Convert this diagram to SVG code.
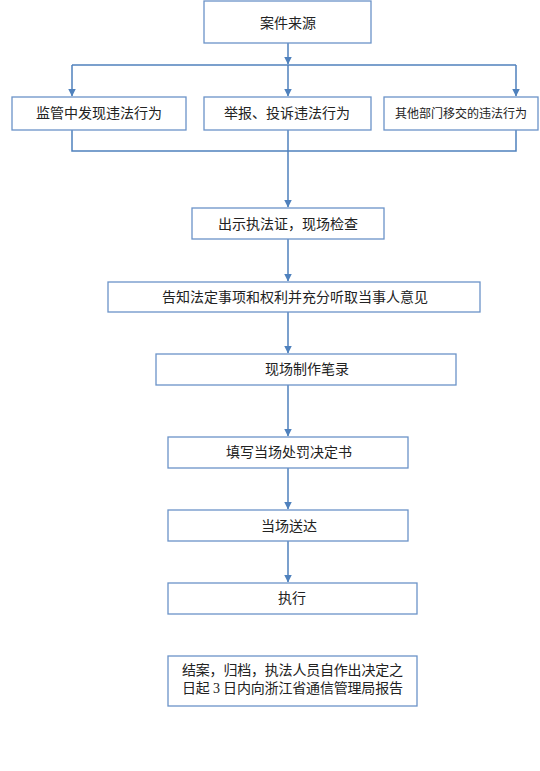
<svg xmlns="http://www.w3.org/2000/svg" width="540" height="771" viewBox="0 0 540 771">
<defs>
<marker id="ah" markerWidth="8" markerHeight="9" refX="7.5" refY="4" orient="auto" markerUnits="userSpaceOnUse" viewBox="0 0 8 8">
<path d="M0,0 L8,4 L0,8 Z" fill="#4f81bd"/>
</marker>
<style>
.box{fill:#fff;stroke:#6b93c8;stroke-width:1.3}
.ln{fill:none;stroke:#4f81bd;stroke-width:1.5}
.t{font-family:"Liberation Serif","Noto Sans CJK SC",serif;font-size:14px;fill:#222;text-anchor:middle;dominant-baseline:central}
.tl{font-family:"Liberation Serif","Noto Sans CJK SC",serif;font-size:14px;fill:#222;text-anchor:start;dominant-baseline:central}
</style>
</defs>
<rect width="540" height="771" fill="#fff"/>
<g id="connectors">
<path class="ln" d="M288,43 V64" marker-end="url(#ah)"/>
<path class="ln" d="M72,65 H516"/>
<path class="ln" d="M72,65 V96" marker-end="url(#ah)"/>
<path class="ln" d="M288,65 V96" marker-end="url(#ah)"/>
<path class="ln" d="M516,65 V96" marker-end="url(#ah)"/>
<path class="ln" d="M72,130 V151 H516 V130"/>
<path class="ln" d="M288,130 V207" marker-end="url(#ah)"/>
<path class="ln" d="M288,239 V281" marker-end="url(#ah)"/>
<path class="ln" d="M288,312 V353" marker-end="url(#ah)"/>
<path class="ln" d="M288,385 V436" marker-end="url(#ah)"/>
<path class="ln" d="M288,468 V509" marker-end="url(#ah)"/>
<path class="ln" d="M288,541 V582" marker-end="url(#ah)"/>
</g>
<g id="n1"><rect class="box" x="204" y="1" width="167" height="42"/><text class="t" x="288" y="23">案件来源</text></g>
<g id="n2"><rect class="box" x="12" y="97" width="174" height="33"/><text class="t" x="99" y="113.5">监管中发现违法行为</text></g>
<g id="n3"><rect class="box" x="204" y="97" width="167" height="33"/><text class="t" x="287" y="113.5">举报、投诉违法行为</text></g>
<g id="n4"><rect class="box" x="384" y="97" width="154" height="33"/><text class="t" x="461" y="113.5" style="font-size:12px">其他部门移交的违法行为</text></g>
<g id="n5"><rect class="box" x="192" y="208" width="192" height="31"/><text class="t" x="288" y="224">出示执法证，现场检查</text></g>
<g id="n6"><rect class="box" x="108" y="282" width="372" height="30"/><text class="t" x="295" y="297">告知法定事项和权利并充分听取当事人意见</text></g>
<g id="n7"><rect class="box" x="156" y="354" width="300" height="31"/><text class="t" x="307" y="369">现场制作笔录</text></g>
<g id="n8"><rect class="box" x="168" y="437" width="240" height="31"/><text class="t" x="289" y="452">填写当场处罚决定书</text></g>
<g id="n9"><rect class="box" x="168" y="510" width="240" height="31"/><text class="t" x="289" y="526">当场送达</text></g>
<g id="n10"><rect class="box" x="168" y="583" width="249" height="31"/><text class="t" x="292" y="598">执行</text></g>
<g id="n11"><rect class="box" x="168" y="656" width="249" height="50"/>
<text class="tl" x="182" y="670" textLength="221" lengthAdjust="spacing">结案，归档，执法人员自作出决定之</text>
<text class="tl" x="182" y="688" textLength="221" lengthAdjust="spacing">日起 3 日内向浙江省通信管理局报告</text></g>
</svg>
